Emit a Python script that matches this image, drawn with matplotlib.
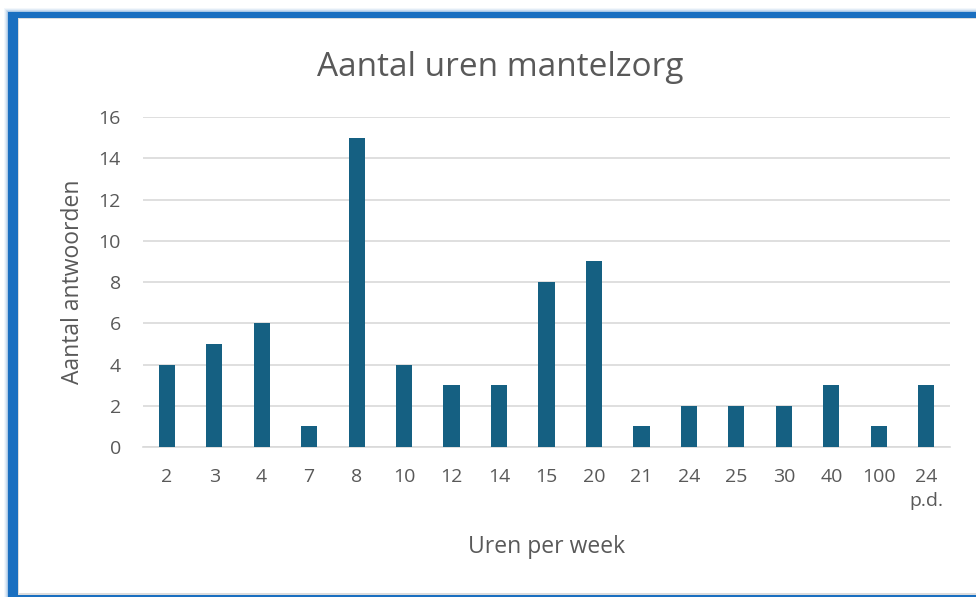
import matplotlib.pyplot as plt
from matplotlib.patches import Rectangle
import numpy as np

# data
categories = ['2', '3', '4', '7', '8', '10', '12', '14', '15', '20', '21',
              '24', '25', '30', '40', '100', '24\np.d.']
answers = [4, 5, 6, 1, 15, 4, 3, 3, 8, 9, 1, 2, 2, 2, 3, 1, 3]

W, H = 976, 597
text_color = '#595959'
plt.rcParams['font.family'] = ['Open Sans', 'DejaVu Sans']

fig = plt.figure(figsize=(W / 100, H / 100), dpi=100)
fig.patch.set_facecolor('white')


def px_rect(x0, y0, x1, y1, **kw):
    # rectangle in pixel coords (top-left origin), kept behind the axes
    r = Rectangle((x0 / W, 1 - y1 / H), (x1 - x0) / W, (y1 - y0) / H,
                  transform=fig.transFigure, zorder=-5, **kw)
    fig.patches.append(r)


# soft shadow + blue frame
for i, a in enumerate([0.05, 0.08, 0.12, 0.18]):
    px_rect(4 + i, 8 + i, W + 10, H + 10, facecolor='#1e6fbf', alpha=a, edgecolor='none')
px_rect(8, 12, W + 10, H + 10, facecolor='#1a6fc0', edgecolor='none')
px_rect(18, 18, W + 10, 595, facecolor='#dcdcdc', edgecolor='none')
px_rect(19, 19, W + 10, 593, facecolor='white', edgecolor='none')

ax = fig.add_axes([143 / W, 1 - 447 / H, (950 - 143) / W, (447 - 117) / H])
ax.set_facecolor('none')

x = np.arange(len(categories))
ax.bar(x, answers, width=0.34, color='#156082', zorder=3)

ax.set_xlim(-0.5, len(categories) - 0.5)
ax.set_ylim(0, 16)
ax.set_yticks(np.arange(0, 17, 2))
ax.set_xticks(x)
ax.set_xticklabels(categories, linespacing=1.45, va='top')
ax.grid(axis='y', color='#d9d9d9', linewidth=1.2, zorder=0)
for s in ['top', 'right', 'left']:
    ax.spines[s].set_visible(False)
ax.spines['bottom'].set_color('#d9d9d9')
ax.spines['bottom'].set_linewidth(1.2)
ax.tick_params(axis='both', length=0, labelsize=14, colors=text_color)
ax.tick_params(axis='x', pad=15)
ax.tick_params(axis='y', pad=16)

fig.text(500 / W, 1 - 67 / H, 'Aantal uren mantelzorg', fontsize=24,
         color=text_color, ha='center', va='center')
ax.set_xlabel('Uren per week', fontsize=16.5, color=text_color, labelpad=18)
ax.set_ylabel('Aantal antwoorden', fontsize=16.5, color=text_color, labelpad=10)

plt.savefig('out.png', dpi=100)
